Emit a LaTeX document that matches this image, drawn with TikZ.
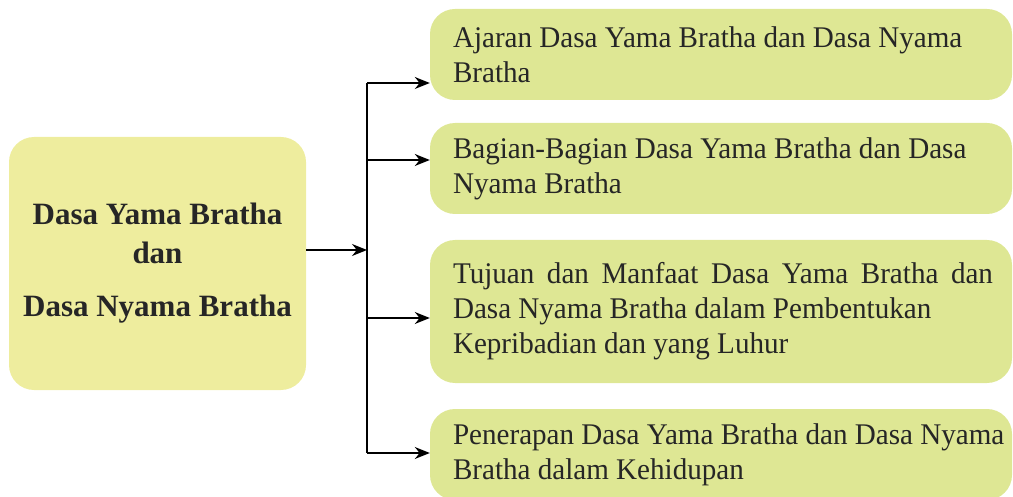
\documentclass[tikz,border=0pt]{standalone}
\usepackage{fontspec}
\setmainfont{Liberation Serif}
\newfontfamily\itemfont[FakeStretch=0.97]{Liberation Serif}
\usepackage{xcolor}
\usetikzlibrary{positioning,arrows.meta}
\definecolor{mainfill}{RGB}{238,237,158}
\definecolor{itemfill}{RGB}{222,231,148}
\newcommand\itemtext[1]{\hspace*{23pt}\parbox{559pt}{\raggedright #1}}
\tikzset{
  mainbox/.style={fill=mainfill, rounded corners=25pt, minimum width=297pt, minimum height=253pt,
    align=center, font=\fontsize{31}{39}\selectfont\bfseries, text=black!85},
  itembox/.style={fill=itemfill, rounded corners=25pt, minimum width=582pt,
    inner xsep=0pt, font=\itemfont\fontsize{30}{35}\selectfont, text=black!85},
  branch/.style={line width=1.5pt, -{Stealth[length=15pt,width=12pt]}},
}
\begin{document}
\begin{tikzpicture}[x=1pt, y=-1pt]
  \useasboundingbox (0,0) rectangle (1013,497);
  \clip (0,0) rectangle (1013,497);
  % left box
  \node[mainbox] (topic) at (157.5,263.5) {Dasa Yama Bratha\\dan\\[14pt]Dasa Nyama Bratha};
  % right boxes
  \node[itembox, minimum height=91pt] (b1) at (721,54.5) {\itemtext{Ajaran Dasa Yama Bratha dan Dasa Nyama\\Bratha}};
  \node[itembox, minimum height=91pt] (b2) at (721,168.5) {\itemtext{Bagian-Bagian Dasa Yama Bratha dan Dasa\\Nyama Bratha}};
  \node[itembox, minimum height=143pt] (b3) at (721,311.5) {\itemtext{\makebox[540pt][s]{Tujuan dan Manfaat Dasa Yama Bratha dan}\\Dasa Nyama Bratha dalam Pembentukan\\Kepribadian dan yang Luhur}};
  \node[itembox, minimum height=91pt] (b4) at (721,454.5) {\itemtext{Penerapan Dasa Yama Bratha dan Dasa Nyama\\Bratha dalam Kehidupan}};
  % connectors
  \coordinate (bus) at (367,250);
  \coordinate (t1) at (367,83);
  \coordinate (t2) at (367,160);
  \coordinate (t3) at (367,318);
  \coordinate (t4) at (367,453);
  \draw[branch] (topic.east |- bus) -- (bus);
  \draw[line width=1.5pt] (t1) -- (t4);
  \draw[branch] (t1) -- (t1 -| b1.west);
  \draw[branch] (t2) -- (t2 -| b2.west);
  \draw[branch] (t3) -- (t3 -| b3.west);
  \draw[branch] (t4) -- (t4 -| b4.west);
\end{tikzpicture}
\end{document}
